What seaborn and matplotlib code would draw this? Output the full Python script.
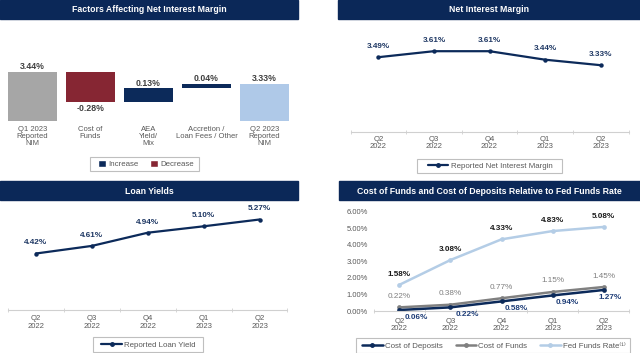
import matplotlib
matplotlib.use("Agg")
import matplotlib.pyplot as plt
from matplotlib.patches import Rectangle, Patch
from matplotlib.lines import Line2D
import seaborn as sns
import pandas as pd

# ---------------- data ----------------
wf_labels = ["Q1 2023\nReported\nNIM", "Cost of\nFunds", "AEA\nYield/\nMix",
             "Accretion /\nLoan Fees / Other", "Q2 2023\nReported\nNIM"]
nim_start = 3.44
nim_changes = [-0.28, 0.13, 0.04]
nim_end = 3.33

quarters = ["Q2\n2022", "Q3\n2022", "Q4\n2022", "Q1\n2023", "Q2\n2023"]
nim = [3.49, 3.61, 3.61, 3.44, 3.33]
loan_yield = [4.42, 4.61, 4.94, 5.10, 5.27]
cost_deposits = [0.06, 0.22, 0.58, 0.94, 1.27]
cost_funds = [0.22, 0.38, 0.77, 1.15, 1.45]
fed_funds = [1.58, 3.08, 4.33, 4.83, 5.08]

# ---------------- style ----------------
sns.set_theme(style="white")
plt.rcParams["font.family"] = ["Liberation Sans", "DejaVu Sans"]

NAVY = "#0C2A5A"
TITLE_BG = "#0B2858"
RED = "#862633"
GRAY_BAR = "#A6A6A6"
LBLUE_BAR = "#AFC9E8"
LBLUE_LINE = "#B4CDE6"
GRAY_LINE = "#808080"
TXT = "#595959"
LBL_NAVY = "#1F3864"
PT = 72 / 100.0
W, H = 640, 353

fig = plt.figure(figsize=(6.4, 3.53), dpi=100)


def ax_px(left, top, right, bottom):
    return fig.add_axes([left / W, 1 - bottom / H, (right - left) / W, (bottom - top) / H])


def fx(x):
    return x / W


def fy(y):
    return 1 - y / H


def title_bar(x0, y0, x1, y1, text):
    fig.patches.append(Rectangle((fx(x0), fy(y1)), (x1 - x0) / W, (y1 - y0) / H,
                                 transform=fig.transFigure, color=TITLE_BG, zorder=0))
    fig.text(fx((x0 + x1) / 2), fy((y0 + y1) / 2 + 0.5), text, color="white",
             fontsize=6.3, fontweight="bold", ha="center", va="center")


def legend_box(x0, y0, x1, y1):
    fig.patches.append(Rectangle((fx(x0), fy(y1)), (x1 - x0) / W, (y1 - y0) / H,
                                 transform=fig.transFigure, facecolor="white",
                                 edgecolor="#BFBFBF", linewidth=0.8, zorder=1))


def make_legend(handles, labels, cx, cy, ncol=1, hl=2.6, cs=1.5, hh=0.7):
    fig.legend(handles, labels, loc="center", bbox_to_anchor=(fx(cx), fy(cy)),
               ncol=ncol, frameon=False, fontsize=5.7, handlelength=hl,
               handleheight=hh, handletextpad=0.3, columnspacing=cs, borderpad=0,
               borderaxespad=0, labelcolor=TXT)


def annotate(ax, text, x, y, dx, dy, color, bold=True, size=5.9):
    ax.annotate(text, (x, y), xytext=(dx * PT, dy * PT), textcoords="offset points",
                ha="center", va="center", color=color, fontsize=size,
                fontweight="bold" if bold else "normal", annotation_clip=False)


def cat_axis(ax, pad):
    ax.set_xlim(-0.5, 4.5)
    for s in ["top", "right", "left"]:
        ax.spines[s].set_visible(False)
    ax.spines["bottom"].set_color("#D0D0D0")
    ax.spines["bottom"].set_linewidth(0.8)
    ax.set_xticks(range(5))
    ax.set_xticklabels(quarters, fontsize=5.5, color=TXT, linespacing=1.1)
    ax.set_xticks([-0.5, 0.5, 1.5, 2.5, 3.5, 4.5], minor=True)
    ax.tick_params(axis="x", which="major", length=0, pad=pad)
    ax.tick_params(axis="x", which="minor", length=3, color="#D0D0D0", width=0.6,
                   direction="inout", bottom=True)
    ax.set_xlabel("")
    ax.set_ylabel("")
    ax.patch.set_alpha(0)


# ---------------- panel 1: waterfall ----------------
title_bar(0, 0, 298, 19, "Factors Affecting Net Interest Margin")
ax1 = ax_px(3.5, 55, 293.5, 120.7)
ax1.set_xlim(-0.5, 4.5)
ax1.set_ylim(2.99, 3.593)
bottoms, heights, colors = [0], [nim_start], [GRAY_BAR]
level = nim_start
for c in nim_changes:
    bottoms.append(level + min(c, 0))
    heights.append(abs(c))
    colors.append(NAVY if c > 0 else RED)
    level += c
bottoms.append(0)
heights.append(nim_end)
colors.append(LBLUE_BAR)
ax1.bar(range(5), heights, bottom=bottoms, color=colors, width=0.83, linewidth=0)
vals = [nim_start] + nim_changes + [nim_end]
for i, v in enumerate(vals):
    top = bottoms[i] + heights[i]
    if v < 0:
        annotate(ax1, f"{v:.2f}%", i, bottoms[i], 0, -6, "#404040", size=6.3)
    else:
        annotate(ax1, f"{v:.2f}%", i, top, 0, 5, "#404040", size=6.3)
ax1.set_xticks(range(5))
ax1.set_xticklabels(wf_labels, fontsize=5.5, color=TXT, linespacing=1.05)
ax1.tick_params(axis="x", length=0, pad=3.5)
ax1.set_yticks([])
for s in ax1.spines.values():
    s.set_visible(False)
ax1.patch.set_alpha(0)
legend_box(90, 157, 199, 171)
make_legend([Patch(facecolor=NAVY), Patch(facecolor=RED)], ["Increase", "Decrease"],
            146, 164.3, ncol=2, hl=1.0, hh=1.0, cs=1.5)

# ---------------- panel 2: NIM ----------------
title_bar(338, 0, 640, 19, "Net Interest Margin")
ax2 = ax_px(350.5, 21.7, 628.5, 131.7)
df2 = pd.DataFrame({"q": quarters, "v": nim})
sns.lineplot(data=df2, x="q", y="v", ax=ax2, color=NAVY, linewidth=1.6,
             marker="o", markersize=3.2, markeredgewidth=0, sort=False)
ax2.set_ylim(2.0, 4.2)
ax2.set_yticks([])
cat_axis(ax2, 3)
for i, v in enumerate(nim):
    annotate(ax2, f"{v:.2f}%", i, v, 0, 10.8, LBL_NAVY)
legend_box(416.7, 158.7, 562, 173.3)
make_legend([Line2D([], [], color=NAVY, lw=1.6, marker="o", ms=2.5)],
            ["Reported Net Interest Margin"], 490, 166.3)

# ---------------- panel 3: loan yields ----------------
title_bar(0, 181, 298, 200, "Loan Yields")
ax3 = ax_px(8.1, 202.3, 287.5, 310.3)
df3 = pd.DataFrame({"q": quarters, "v": loan_yield})
sns.lineplot(data=df3, x="q", y="v", ax=ax3, color=NAVY, linewidth=1.6,
             marker="o", markersize=3.2, markeredgewidth=0, sort=False)
ax3.set_ylim(3.0, 5.7)
ax3.set_yticks([])
cat_axis(ax3, 3.5)
for i, v in enumerate(loan_yield):
    annotate(ax3, f"{v:.2f}%", i, v, 0, 10.6, LBL_NAVY)
legend_box(92.7, 337.3, 203.3, 351.7)
make_legend([Line2D([], [], color=NAVY, lw=1.6, marker="o", ms=2.5)],
            ["Reported Loan Yield"], 148.7, 344.8)

# ---------------- panel 4: cost of funds ----------------
title_bar(339, 181, 640, 200, "Cost of Funds and Cost of Deposits Relative to Fed Funds Rate")
ax4 = ax_px(373.8, 211.7, 629.2, 311)
df4 = pd.DataFrame({"q": quarters * 3,
                    "v": fed_funds + cost_funds + cost_deposits,
                    "s": ["Fed"] * 5 + ["Funds"] * 5 + ["Deposits"] * 5})
sns.lineplot(data=df4, x="q", y="v", hue="s", ax=ax4,
             palette={"Fed": LBLUE_LINE, "Funds": GRAY_LINE, "Deposits": NAVY},
             hue_order=["Fed", "Funds", "Deposits"], linewidth=1.8,
             marker="o", markersize=3.4, markeredgewidth=0, sort=False, legend=False)
ax4.set_ylim(0, 6)
ax4.set_yticks(range(7))
ax4.set_yticklabels([f"{t:.2f}%" for t in range(7)], fontsize=5.5, color=TXT)
ax4.tick_params(axis="y", length=0, pad=4.3)
cat_axis(ax4, 5)
ax4.spines["left"].set_visible(False)
for i, v in enumerate(fed_funds):
    annotate(ax4, f"{v:.2f}%", i, v, 0, 10.5, "#1A1A1A")
for i, v in enumerate(cost_funds):
    annotate(ax4, f"{v:.2f}%", i, v, 0, 11, "#7F7F7F", bold=False)
dep_dx = [17, 17, 15, 15, 6]
for i, v in enumerate(cost_deposits):
    annotate(ax4, f"{v:.2f}%", i, v, dep_dx[i], -7.5, "#1F3E78")
legend_box(355.7, 338.3, 630, 353)
make_legend([Line2D([], [], color=NAVY, lw=1.8, marker="o", ms=2.5),
             Line2D([], [], color=GRAY_LINE, lw=1.8, marker="o", ms=2.5),
             Line2D([], [], color=LBLUE_LINE, lw=1.8, marker="o", ms=2.5)],
            ["Cost of Deposits", "Cost of Funds", "Fed Funds Rate⁽¹⁾"],
            494, 345.8, ncol=3, hl=2.6, cs=1.6)

fig.savefig("out.png", dpi=100)
